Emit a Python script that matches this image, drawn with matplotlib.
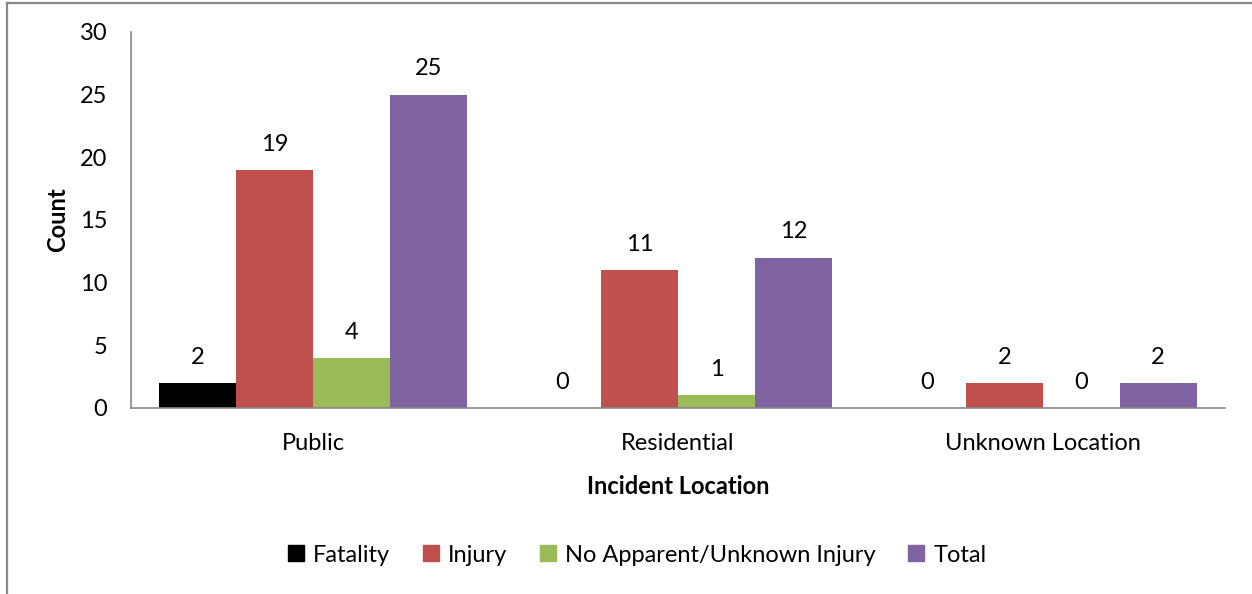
import matplotlib
matplotlib.use("Agg")
import matplotlib.pyplot as plt
from matplotlib.lines import Line2D
import numpy as np

categories = ["Public", "Residential", "Unknown Location"]
series_names = ["Fatality", "Injury", "No Apparent/Unknown Injury", "Total"]
fatality = [2, 0, 0]
injury = [19, 11, 2]
no_apparent = [4, 1, 0]
total = [25, 12, 2]
colors = ["#000000", "#C0504D", "#9BBB59", "#8064A2"]
yticks = [0, 5, 10, 15, 20, 25, 30]

plt.rcParams['font.family'] = ['Lato', 'DejaVu Sans']
FS = 17

W, H = 1252, 594
fig = plt.figure(figsize=(W / 100, H / 100), dpi=100)
ax = fig.add_axes([131 / W, 1 - 408 / H, (1225 - 131) / W, (408 - 32) / H])

series = [fatality, injury, no_apparent, total]
x = np.arange(len(categories))
bw = 0.211
for i, (name, vals, c) in enumerate(zip(series_names, series, colors)):
    pos = x + (i - 1.5) * bw
    ax.bar(pos, vals, width=bw, color=c, label=name, zorder=2)
    for p, v in zip(pos, vals):
        ax.annotate(str(v), (p, v), xytext=(0, 18.5), textcoords="offset points",
                    ha="center", va="center", fontsize=FS)

ax.set_xlim(-0.5, len(categories) - 0.5)
ax.set_ylim(0, 30)
ax.set_yticks(yticks)
ax.set_xticks(x)
ax.set_xticklabels(categories)
ax.tick_params(axis="both", length=0, labelsize=FS)
ax.tick_params(axis="y", pad=17)
ax.tick_params(axis="x", pad=18)
for s in ["top", "right"]:
    ax.spines[s].set_visible(False)
for s in ["left", "bottom"]:
    ax.spines[s].set_color("#888888")
    ax.spines[s].set_linewidth(1.2)

ax.set_ylabel("Count", fontsize=FS, fontweight="bold", labelpad=8)
ax.set_xlabel("Incident Location", fontsize=FS, fontweight="bold", labelpad=15)

handles = [Line2D([0], [0], marker="s", linestyle="none", markersize=11,
                  markerfacecolor=c, markeredgecolor=c) for c in colors]
fig.legend(handles, series_names, loc="center", bbox_to_anchor=(636 / W, 1 - 555 / H),
           ncol=4, frameon=False, fontsize=FS, handletextpad=0.3, columnspacing=1.25,
           handlelength=0.9)

# figure border
fig.add_artist(Line2D([6.5 / W, 6.5 / W], [0, 1 - 2.5 / H], transform=fig.transFigure,
                      color="#888888", linewidth=1.6))
fig.add_artist(Line2D([6.5 / W, 1], [1 - 2.5 / H, 1 - 2.5 / H], transform=fig.transFigure,
                      color="#888888", linewidth=1.6))

fig.savefig("out.png", dpi=100)
